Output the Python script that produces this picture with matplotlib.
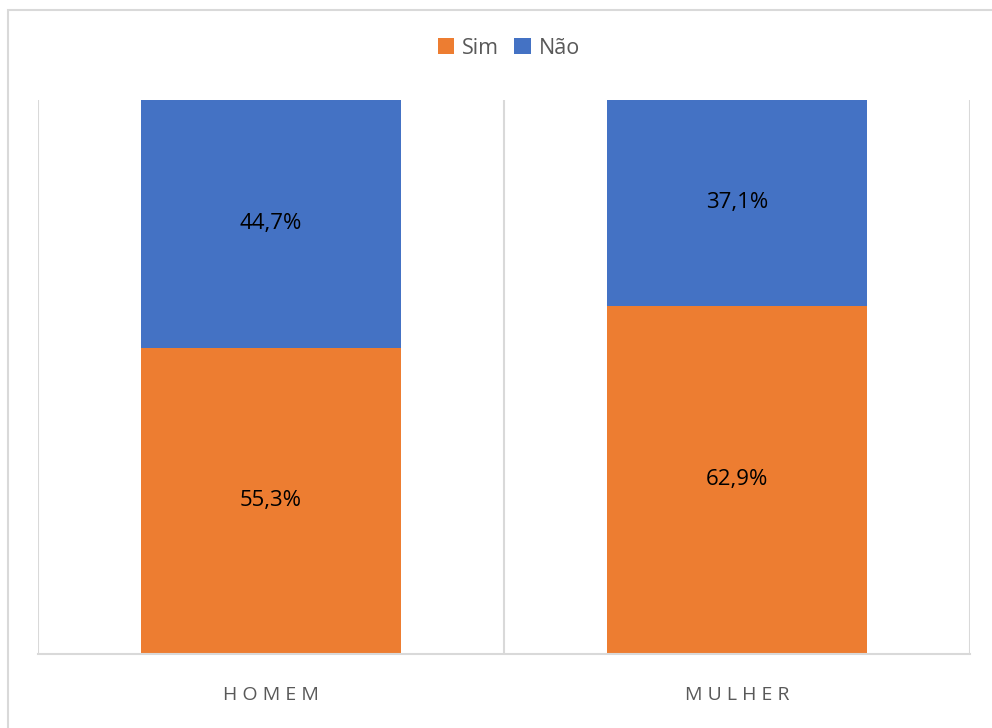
import matplotlib.pyplot as plt
from matplotlib.patches import Rectangle

categories = ['HOMEM', 'MULHER']
sim = [55.3, 62.9]
nao = [44.7, 37.1]

plt.rcParams['font.family'] = ['Open Sans', 'DejaVu Sans']

fig = plt.figure(figsize=(9.92, 7.28), dpi=100)
ax = fig.add_axes([38/992, 1 - 654/728, (970 - 38)/992, (654 - 100)/728])

# outer chart border (cut at right/bottom like the reference)
fig.patches.append(Rectangle((8/992, -0.05), 1.1, 1 - 10/728 + 0.05,
                             transform=fig.transFigure, fill=False,
                             edgecolor='#d9d9d9', linewidth=1.5))

x = range(len(categories))
width = 0.557
b1 = ax.bar(x, sim, width, color='#ED7D31', label='Sim')
b2 = ax.bar(x, nao, width, bottom=sim, color='#4472C4', label='Não')

for i in x:
    ax.text(i, sim[i] / 2, f'{sim[i]:.1f}%'.replace('.', ','),
            ha='center', va='center', fontsize=16, color='black')
    ax.text(i, sim[i] + nao[i] / 2, f'{nao[i]:.1f}%'.replace('.', ','),
            ha='center', va='center', fontsize=16, color='black')

ax.set_xlim(-0.5, 1.5)
ax.set_ylim(0, 100)
for gx in [-0.5, 0.5, 1.5]:
    ax.axvline(gx, color='#d9d9d9', linewidth=1.5, zorder=0)

for s in ['top', 'left', 'right']:
    ax.spines[s].set_visible(False)
ax.spines['bottom'].set_color('#d9d9d9')
ax.spines['bottom'].set_linewidth(1.5)
ax.set_yticks([])
ax.set_xticks(list(x))
ax.set_xticklabels([' '.join(c) for c in categories], fontsize=14, color='#595959')
ax.tick_params(axis='x', length=0, pad=23)

fig.legend(handles=[b1, b2], loc='center', bbox_to_anchor=(509/992, 1 - 48/728),
           ncol=2, frameon=False, fontsize=15.5, labelcolor='#595959',
           handlelength=0.75, handleheight=0.75, handletextpad=0.4, columnspacing=0.7)

plt.savefig('out.png', dpi=100)
